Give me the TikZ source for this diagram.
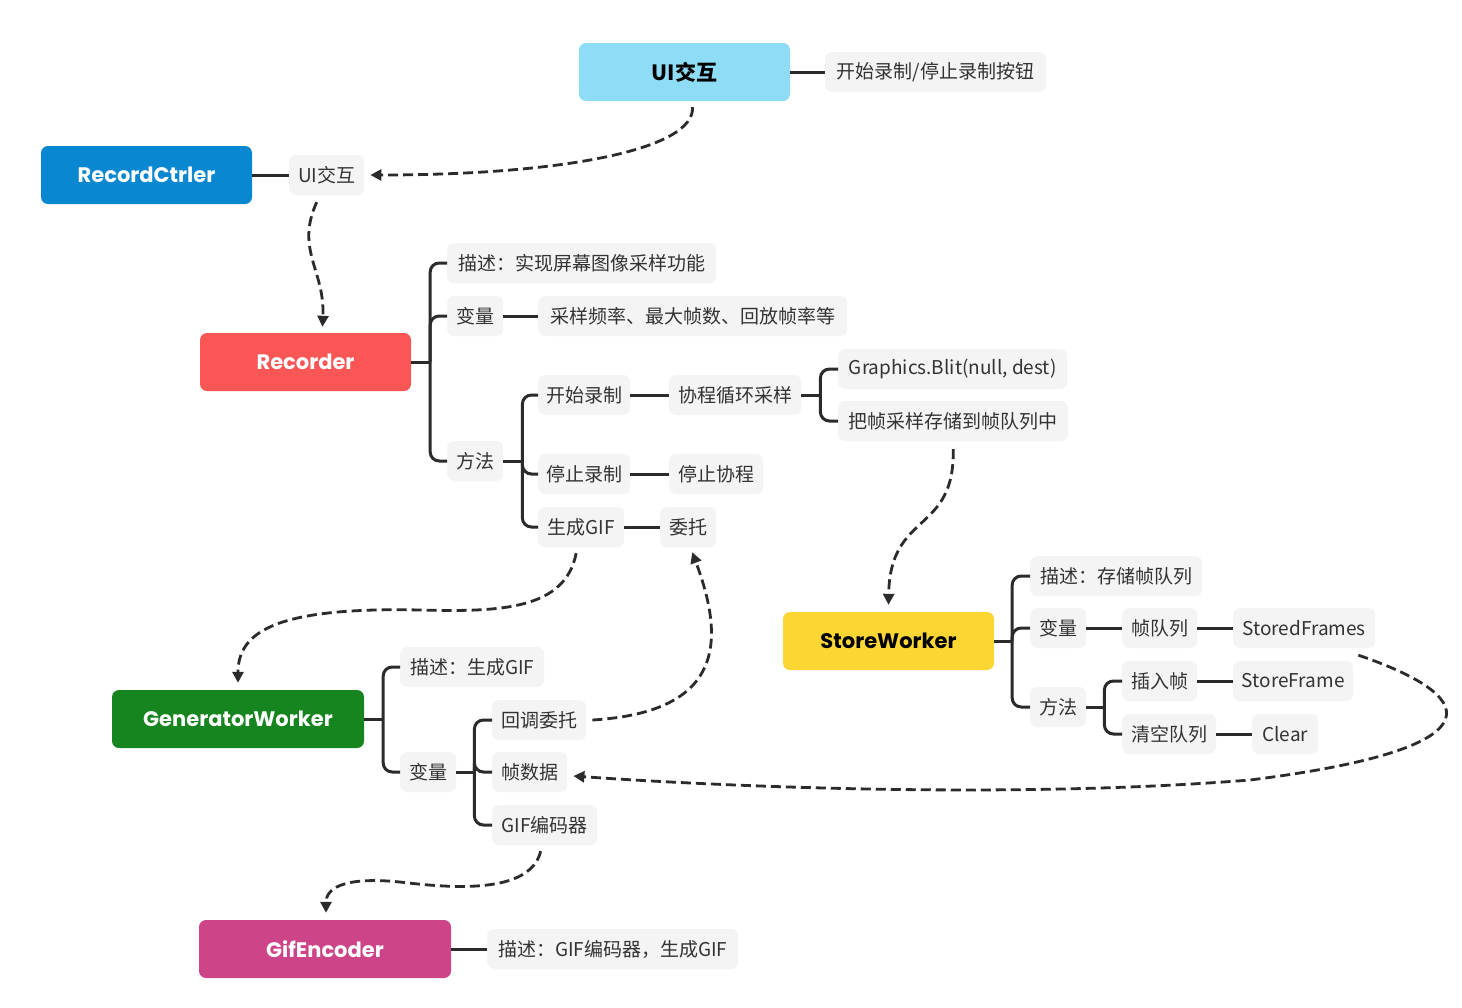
\documentclass[tikz,border=0pt]{standalone}
\usepackage{fontspec}
\setmainfont{Noto Sans CJK SC}
\newfontfamily\popfont{Poppins}
\usetikzlibrary{arrows.meta,calc}
\definecolor{lblbg}{HTML}{F5F4F4}
\definecolor{lnk}{HTML}{2B2B2B}
\definecolor{txt}{HTML}{333333}
\definecolor{cUI}{HTML}{8FDCF6}
\definecolor{cRC}{HTML}{0A87D1}
\definecolor{cRE}{HTML}{FB5656}
\definecolor{cGW}{HTML}{16841F}
\definecolor{cSW}{HTML}{FCD734}
\definecolor{cGE}{HTML}{CE4489}
\tikzset{
  lbl/.style={fill=lblbg, rounded corners=7pt, minimum height=40pt, inner xsep=8pt, inner ysep=0pt,
    text=txt, font=\fontsize{19}{21}\selectfont, anchor=west},
  mainbox/.style={rounded corners=7pt, minimum height=58pt, inner sep=0pt,
    font=\popfont\bfseries\fontsize{21}{23}\selectfont, text=white},
  link/.style={draw=lnk, line width=3pt},
  tree/.style={draw=lnk, line width=3pt, rounded corners=9pt},
  darr/.style={draw=lnk, line width=2.8pt, dash pattern=on 10pt off 5pt,
    -{Triangle[length=11pt,width=11pt]}}
}
\begin{document}
\begin{tikzpicture}[x=1pt,y=-1pt]
\useasboundingbox[fill=white] (0,0) rectangle (1462,1007);

% main nodes
\node[mainbox, fill=cUI, text=black, minimum width=211pt, font=\bfseries\fontsize{21}{23}\selectfont] (ui) at (684.5,72) {UI交互};
\node[mainbox, fill=cRC, minimum width=211pt] (rc) at (146.5,175) {RecordCtrler};
\node[mainbox, fill=cRE, minimum width=211pt] (rec) at (305.5,362) {Recorder};
\node[mainbox, fill=cGW, minimum width=252pt] (gw) at (238,719) {GeneratorWorker};
\node[mainbox, fill=cSW, text=black, minimum width=211pt] (sw) at (888.5,641) {StoreWorker};
\node[mainbox, fill=cGE, minimum width=252pt] (ge) at (325,949) {GifEncoder};

% labels
\node[lbl, minimum width=221pt] (ctl) at (825,72) {开始录制/停止录制按钮};
\node[lbl, minimum width=75pt] (ui2) at (289,175) {UI交互};
\node[lbl, minimum width=269pt] (r1) at (447,263) {描述：实现屏幕图像采样功能};
\node[lbl, minimum width=56pt] (r2) at (447,316) {变量};
\node[lbl, minimum width=309pt] (r2a) at (538,316) {采样频率、最大帧数、回放帧率等};
\node[lbl, minimum width=56pt] (r3) at (447,461) {方法};
\node[lbl, minimum width=86pt] (m1) at (538,395) {开始录制};
\node[lbl, minimum width=132pt] (m1a) at (669,395) {协程循环采样};
\node[lbl, minimum width=229pt] (m1b) at (838,369) {Graphics.Blit(null, dest)};
\node[lbl, minimum width=230pt] (m1c) at (838,421) {把帧采样存储到帧队列中};
\node[lbl, minimum width=86pt] (m2) at (538,474) {停止录制};
\node[lbl, minimum width=94pt] (m2a) at (669,474) {停止协程};
\node[lbl, minimum width=86pt] (m3) at (538,527) {生成GIF};
\node[lbl, minimum width=56pt] (m3a) at (660,527) {委托};
\node[lbl, minimum width=144pt] (g1) at (400,667) {描述：生成GIF};
\node[lbl, minimum width=56pt] (g2) at (400,772) {变量};
\node[lbl, minimum width=94pt] (g2a) at (492,720) {回调委托};
\node[lbl, minimum width=75pt] (g2b) at (492,772) {帧数据};
\node[lbl, minimum width=105pt] (g2c) at (492,825) {GIF编码器};
\node[lbl, minimum width=172pt] (s1) at (1030,576) {描述：存储帧队列};
\node[lbl, minimum width=56pt] (s2) at (1030,628) {变量};
\node[lbl, minimum width=75pt] (s2a) at (1122,628) {帧队列};
\node[lbl, minimum width=142pt] (s2b) at (1233,628) {StoredFrames};
\node[lbl, minimum width=56pt] (s3) at (1030,707) {方法};
\node[lbl, minimum width=75pt] (s3a) at (1122,681) {插入帧};
\node[lbl, minimum width=120pt] (s3b) at (1233,681) {StoreFrame};
\node[lbl, minimum width=94pt] (s3c) at (1122,734) {清空队列};
\node[lbl, minimum width=66pt] (s3d) at (1252,734) {Clear};
\node[lbl, minimum width=251pt] (e1) at (487,949) {描述：GIF编码器，生成GIF};

% straight links
\draw[link] (ui.east) -- (ctl.west);
\draw[link] (rc.east) -- (ui2.west);
\draw[link] (r2.east) -- (r2a.west);
\draw[link] (m1.east) -- (m1a.west);
\draw[link] (m2.east) -- (m2a.west);
\draw[link] (m3.east) -- (m3a.west);
\draw[link] (s2.east) -- (s2a.west);
\draw[link] (s2a.east) -- (s2b.west);
\draw[link] (s3a.east) -- (s3b.west);
\draw[link] (s3c.east) -- (s3d.west);
\draw[link] (ge.east) -- (e1.west);

% trees
\draw[link] (rec.east) -- ++(19,0) coordinate (jr);
\foreach \c in {r1,r2,r3} \draw[tree] (jr) |- (\c.west);
\draw[link] (r3.east) -- ++(19,0) coordinate (jm);
\foreach \c in {m1,m2,m3} \draw[tree] (jm) |- (\c.west);
\draw[link] (m1a.east) -- ++(19,0) coordinate (jc);
\foreach \c in {m1b,m1c} \draw[tree] (jc) |- (\c.west);
\draw[link] (gw.east) -- ++(19,0) coordinate (jg);
\foreach \c in {g1,g2} \draw[tree] (jg) |- (\c.west);
\draw[link] (g2.east) -- ++(18,0) coordinate (jv);
\foreach \c in {g2a,g2b,g2c} \draw[tree] (jv) |- (\c.west);
\draw[link] (sw.east) -- ++(18,0) coordinate (js);
\foreach \c in {s1,s2,s3} \draw[tree] (js) |- (\c.west);
\draw[link] (s3.east) -- ++(18,0) coordinate (jt);
\foreach \c in {s3a,s3c} \draw[tree] (jt) |- (\c.west);

% dashed arrows
\draw[darr] ([xshift=8pt,yshift=-6pt]ui.south) .. controls (695,150) and (560,175) .. ([xshift=6pt]ui2.east);
\draw[darr] ([xshift=-10pt,yshift=-7pt]ui2.south) .. controls (295,250) and (325,270) .. ([xshift=17pt,yshift=6pt]rec.north);
\draw[darr] ([yshift=-8pt]m1c.south) .. controls (955,535) and (890,510) .. ([yshift=7pt]sw.north);
\draw[darr] ([xshift=-5pt,yshift=-6pt]m3.south) .. controls (565,610) and (500,612) .. (420,610) .. controls (280,607) and (238,630) .. ([yshift=7pt]gw.north);
\draw[darr] ([xshift=6pt]g2a.east) .. controls (725,712) and (725,640) .. ([xshift=4pt,yshift=-5pt]m3a.south);
\draw[darr] ([xshift=-17pt,yshift=-7pt]s2b.south east) .. controls (1490,700) and (1490,750) .. (1250,780) .. controls (1000,800) and (700,785) .. ([xshift=6pt,yshift=-4pt]g2b.east);
\draw[darr] ([xshift=-4pt,yshift=-6pt]g2c.south) .. controls (530,895) and (450,888) .. (400,882) .. controls (340,876) and (326,890) .. ([xshift=1pt,yshift=7pt]ge.north);
\end{tikzpicture}
\end{document}
